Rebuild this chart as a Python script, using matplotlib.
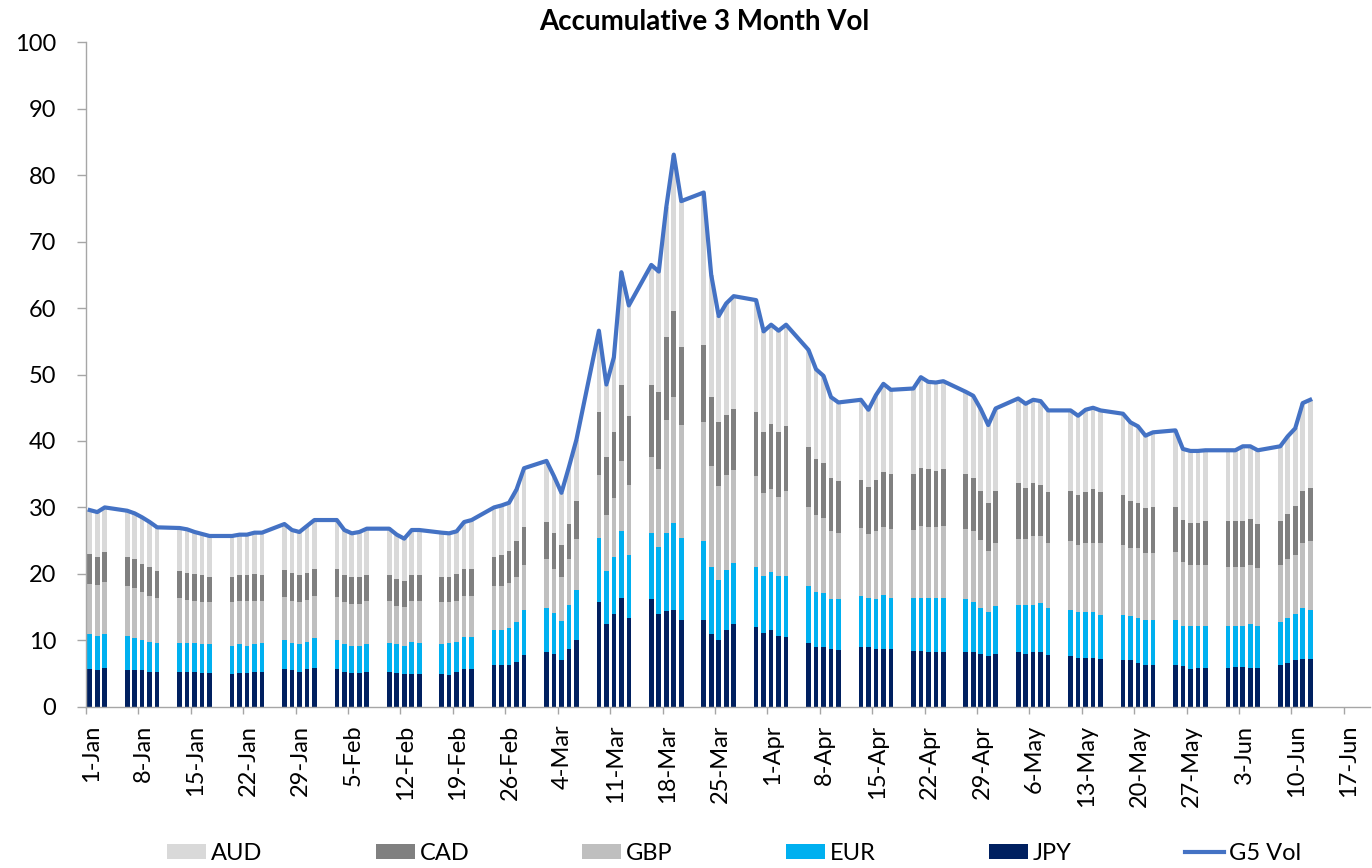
#!/usr/bin/env python3
"""
Accumulative 3 month implied vol: stacked G5 currency bars plus the G5 total line.
"""

import datetime as dt
import matplotlib
matplotlib.use('Agg')
import matplotlib.pyplot as plt
import matplotlib.dates as mdates
import matplotlib.transforms as mtransforms
import pandas as pd

# business days 1-Jan-2020 .. 12-Jun-2020
dates = pd.bdate_range('2020-01-01', '2020-06-12')

# values per currency (Jan, Feb, Mar, Apr, May, Jun)
jpy = [5.7, 5.5, 5.9, 5.5, 5.5, 5.5, 5.3, 5.3, 5.3, 5.3, 5.3, 5.1, 5.1, 4.9, 5.1, 5.1, 5.3, 5.3, 5.7, 5.5, 5.3, 5.7, 5.9,
       5.7, 5.3, 5.1, 5.1, 5.3, 5.3, 5.1, 4.9, 5.0, 5.0, 5.0, 4.8, 5.3, 5.7, 5.7, 6.3, 6.3, 6.3, 6.8, 7.8,
       8.2, 8.0, 7.1, 8.7, 10.0, 15.8, 12.5, 14.0, 16.3, 13.3, 16.2, 14.0, 14.4, 14.6, 13.0, 13.0, 11.0, 10.0, 11.5, 12.4, 12.0, 11.1,
       11.5, 10.7, 10.5, 9.6, 9.0, 9.0, 8.7, 8.5, 9.0, 9.0, 8.7, 8.7, 8.7, 8.4, 8.4, 8.2, 8.2, 8.2, 8.2, 8.2, 8.0, 7.6,
       8.0, 8.2, 8.0, 8.2, 8.2, 7.8, 7.6, 7.4, 7.4, 7.4, 7.2, 7.0, 7.0, 6.6, 6.3, 6.3, 6.3, 6.1, 5.7, 5.9, 5.9,
       5.9, 6.0, 6.0, 5.9, 5.9, 6.3, 6.6, 7.0, 7.2, 7.2]
eur = [5.3, 5.1, 5.1, 5.1, 4.8, 4.6, 4.5, 4.3, 4.3, 4.3, 4.3, 4.3, 4.3, 4.3, 4.3, 4.1, 4.1, 4.3, 4.4, 4.1, 4.1, 4.1, 4.4,
       4.4, 4.1, 4.1, 4.1, 4.1, 4.3, 4.3, 4.3, 4.8, 4.6, 4.4, 4.8, 4.5, 4.8, 4.8, 5.3, 5.3, 5.5, 5.9, 6.7,
       6.6, 6.1, 5.8, 6.6, 7.5, 9.6, 8.0, 8.6, 10.2, 9.5, 9.9, 10.0, 11.7, 13.1, 12.4, 11.9, 10.0, 9.1, 9.1, 9.3, 9.1, 8.6,
       8.8, 9.0, 9.2, 8.6, 8.3, 8.1, 7.5, 7.7, 7.7, 7.4, 7.5, 8.1, 7.7, 8.0, 8.0, 8.2, 8.2, 8.2, 8.0, 7.6, 6.9, 6.6,
       7.1, 7.1, 7.3, 7.1, 7.4, 7.1, 7.0, 6.9, 6.8, 6.8, 6.6, 6.8, 6.6, 6.8, 6.7, 6.7, 6.7, 6.1, 6.4, 6.3, 6.2,
       6.2, 6.2, 6.2, 6.6, 6.3, 6.4, 6.8, 7.0, 7.7, 7.4]
gbp = [7.5, 7.7, 7.7, 7.5, 7.6, 7.1, 6.9, 6.7, 6.7, 6.5, 6.3, 6.3, 6.3, 6.5, 6.5, 6.7, 6.5, 6.3, 6.4, 6.3, 6.3, 6.3, 6.3,
       6.4, 6.3, 6.2, 6.2, 6.5, 6.3, 5.8, 5.8, 6.1, 6.3, 6.3, 6.1, 6.1, 6.2, 6.2, 6.5, 6.5, 6.8, 6.9, 6.9,
       7.4, 6.7, 6.7, 6.9, 7.8, 9.5, 8.3, 8.8, 10.5, 10.6, 11.5, 11.8, 17.1, 18.9, 17.0, 18.0, 15.2, 14.1, 14.3, 13.9, 13.6, 12.4,
       12.4, 11.9, 12.8, 11.8, 11.6, 11.3, 10.2, 10.0, 10.2, 9.6, 10.2, 10.2, 10.4, 10.2, 10.8, 10.6, 10.6, 10.8, 10.6, 10.6, 10.2, 9.3,
       9.6, 10.0, 9.9, 10.4, 10.1, 9.7, 10.3, 10.1, 10.5, 10.5, 10.9, 10.6, 10.3, 10.5, 10.1, 10.1, 10.3, 9.6, 9.3, 9.2, 9.3,
       9.0, 8.9, 8.9, 8.9, 8.7, 8.7, 8.9, 8.8, 9.8, 10.3]
cad = [4.5, 4.3, 4.6, 4.5, 4.3, 4.3, 4.4, 4.1, 4.1, 4.1, 4.1, 4.1, 3.9, 3.9, 3.9, 3.9, 4.1, 3.9, 4.1, 4.3, 4.1, 4.1, 4.2,
       4.3, 4.1, 4.2, 4.2, 3.9, 3.9, 4.0, 3.9, 3.9, 3.9, 3.9, 3.9, 4.1, 4.1, 4.1, 4.5, 4.8, 4.9, 5.3, 5.7,
       5.6, 5.3, 4.8, 5.3, 5.7, 9.5, 8.8, 10.0, 11.5, 10.3, 10.9, 11.5, 12.5, 13.0, 11.7, 11.6, 10.4, 9.7, 9.0, 9.2, 9.7, 9.3,
       9.9, 9.8, 9.7, 9.1, 8.4, 8.3, 8.0, 7.8, 7.3, 7.1, 7.8, 8.3, 8.3, 8.5, 8.8, 8.8, 8.5, 8.6, 8.3, 8.1, 7.4, 7.2,
       7.8, 8.3, 7.7, 7.9, 7.7, 7.7, 7.6, 7.5, 7.6, 8.1, 7.6, 7.5, 7.1, 6.8, 6.8, 7.0, 6.8, 6.3, 6.3, 6.3, 6.5,
       6.8, 6.8, 6.8, 6.8, 6.6, 6.5, 6.7, 7.4, 7.8, 8.0]
aud = [6.6, 6.7, 6.7, 6.9, 6.9, 7.0, 6.7, 6.6, 6.5, 6.5, 6.3, 6.2, 6.1, 6.1, 6.1, 6.1, 6.2, 6.4, 6.9, 6.4, 6.5, 7.0, 7.3,
       7.3, 6.8, 6.5, 6.7, 7.0, 7.0, 6.7, 6.4, 6.8, 6.8, 6.6, 6.5, 6.4, 7.0, 7.3, 7.4, 7.4, 7.2, 7.8, 8.8,
       9.2, 8.6, 7.8, 8.6, 9.2, 12.2, 10.9, 11.2, 16.9, 16.7, 18.0, 18.2, 19.5, 23.5, 22.0, 22.9, 18.4, 15.9, 16.8, 17.0, 16.8, 15.1,
       14.9, 15.2, 15.3, 14.6, 13.5, 13.1, 12.2, 11.8, 12.0, 11.6, 12.7, 13.3, 12.6, 12.8, 13.6, 13.1, 13.3, 13.2, 12.3, 12.3, 12.3, 11.7,
       12.4, 12.8, 12.7, 12.6, 12.6, 12.3, 12.1, 11.9, 12.4, 12.2, 12.3, 12.2, 11.8, 11.5, 10.9, 11.2, 11.5, 10.7, 10.8, 10.8, 10.7,
       10.7, 10.7, 11.3, 11.0, 11.1, 11.3, 11.7, 11.7, 13.2, 13.3]
g5_vol = [29.6, 29.3, 30.0, 29.5, 29.1, 28.5, 27.8, 27.0, 26.9, 26.7, 26.3, 26.0, 25.7, 25.7, 25.9, 25.9, 26.2, 26.2, 27.5, 26.6, 26.3, 27.2, 28.1,
          28.1, 26.6, 26.1, 26.3, 26.8, 26.8, 25.9, 25.3, 26.6, 26.6, 26.2, 26.1, 26.4, 27.8, 28.1, 30.0, 30.3, 30.7, 32.7, 35.9,
          37.0, 34.7, 32.2, 36.1, 40.2, 56.6, 48.5, 52.6, 65.4, 60.4, 66.5, 65.5, 75.2, 83.1, 76.1, 77.4, 65.0, 58.8, 60.7, 61.8, 61.2, 56.5,
          57.5, 56.6, 57.5, 53.7, 50.8, 49.8, 46.6, 45.8, 46.2, 44.7, 46.9, 48.6, 47.7, 47.9, 49.6, 48.9, 48.8, 49.0, 47.4, 46.8, 44.8, 42.4,
          44.9, 46.4, 45.6, 46.2, 46.0, 44.6, 44.6, 43.8, 44.7, 45.0, 44.6, 44.1, 42.8, 42.2, 40.8, 41.3, 41.6, 38.8, 38.5, 38.5, 38.6,
          38.6, 38.6, 39.2, 39.2, 38.6, 39.2, 40.7, 41.9, 45.7, 46.2]

# stacking order bottom -> top
series = [('JPY', jpy, '#002060'), ('EUR', eur, '#00B0F0'), ('GBP', gbp, '#BFBFBF'),
          ('CAD', cad, '#808080'), ('AUD', aud, '#D9D9D9')]
legend_order = ['AUD', 'CAD', 'GBP', 'EUR', 'JPY']

FONT = 'Lato'
AXIS_GREY = '#A6A6A6'


def plot_chart(output_file):
    plt.rcParams['font.family'] = [FONT, 'DejaVu Sans']
    fig = plt.figure(figsize=(13.72, 8.68), dpi=100)
    ax = fig.add_axes([0.0627, 0.1858, 0.9359, 0.7654])

    # Excel date axis "between tick marks": points sit in the middle of each day
    x = mdates.date2num(dates.to_pydatetime()) + 0.5

    handles = {}
    bottom = [0.0] * len(x)
    for name, vals, color in series:
        bars = ax.bar(x, vals, width=0.62, bottom=bottom, color=color,
                      linewidth=0, zorder=2, label=name)
        handles[name] = bars
        bottom = [b + v for b, v in zip(bottom, vals)]

    line, = ax.plot(x, g5_vol, color='#4472C4', linewidth=3.0,
                    solid_joinstyle='round', zorder=3, label='G5 Vol')

    # axes
    ax.set_ylim(0, 100)
    ax.set_yticks(range(0, 101, 10))
    start = mdates.date2num(dt.datetime(2020, 1, 1))
    ax.set_xlim(start, start + 171.5)
    ticks = [start + 7 * i for i in range(25)]
    ax.set_xticks(ticks)
    ax.set_xticklabels([f"{d.day}-{d.strftime('%b')}" for d in mdates.num2date(ticks)],
                       rotation=90, va='top', ha='center')

    for side in ('top', 'right'):
        ax.spines[side].set_visible(False)
    for side in ('left', 'bottom'):
        ax.spines[side].set_color(AXIS_GREY)
        ax.spines[side].set_linewidth(1.0)
    ax.tick_params(axis='y', direction='out', length=6.5, width=1.0, color=AXIS_GREY,
                   labelsize=17, pad=15)
    ax.tick_params(axis='x', direction='out', length=5, width=1.0, color=AXIS_GREY,
                   labelsize=17, pad=8)
    shift = mtransforms.ScaledTranslation(5 / 100, 0, fig.dpi_scale_trans)
    for lbl in ax.get_xticklabels():
        lbl.set_transform(lbl.get_transform() + shift)

    fig.text(0.513, 0.975, 'Accumulative 3 Month Vol', ha='center', va='center',
             fontsize=20, fontweight='bold')

    # legend along the bottom
    leg_handles = [handles[n] for n in legend_order] + [line]
    leg_labels = legend_order + ['G5 Vol']
    fig.legend(leg_handles, leg_labels, loc='center', bbox_to_anchor=(0.535, 0.017),
               ncol=6, frameon=False, fontsize=17, handlelength=1.65, handleheight=0.64,
               handletextpad=0.2, columnspacing=4.8)

    fig.savefig(output_file, dpi=100)
    print(f"Plot saved to {output_file}")


def main():
    plot_chart('out.png')


if __name__ == '__main__':
    main()
